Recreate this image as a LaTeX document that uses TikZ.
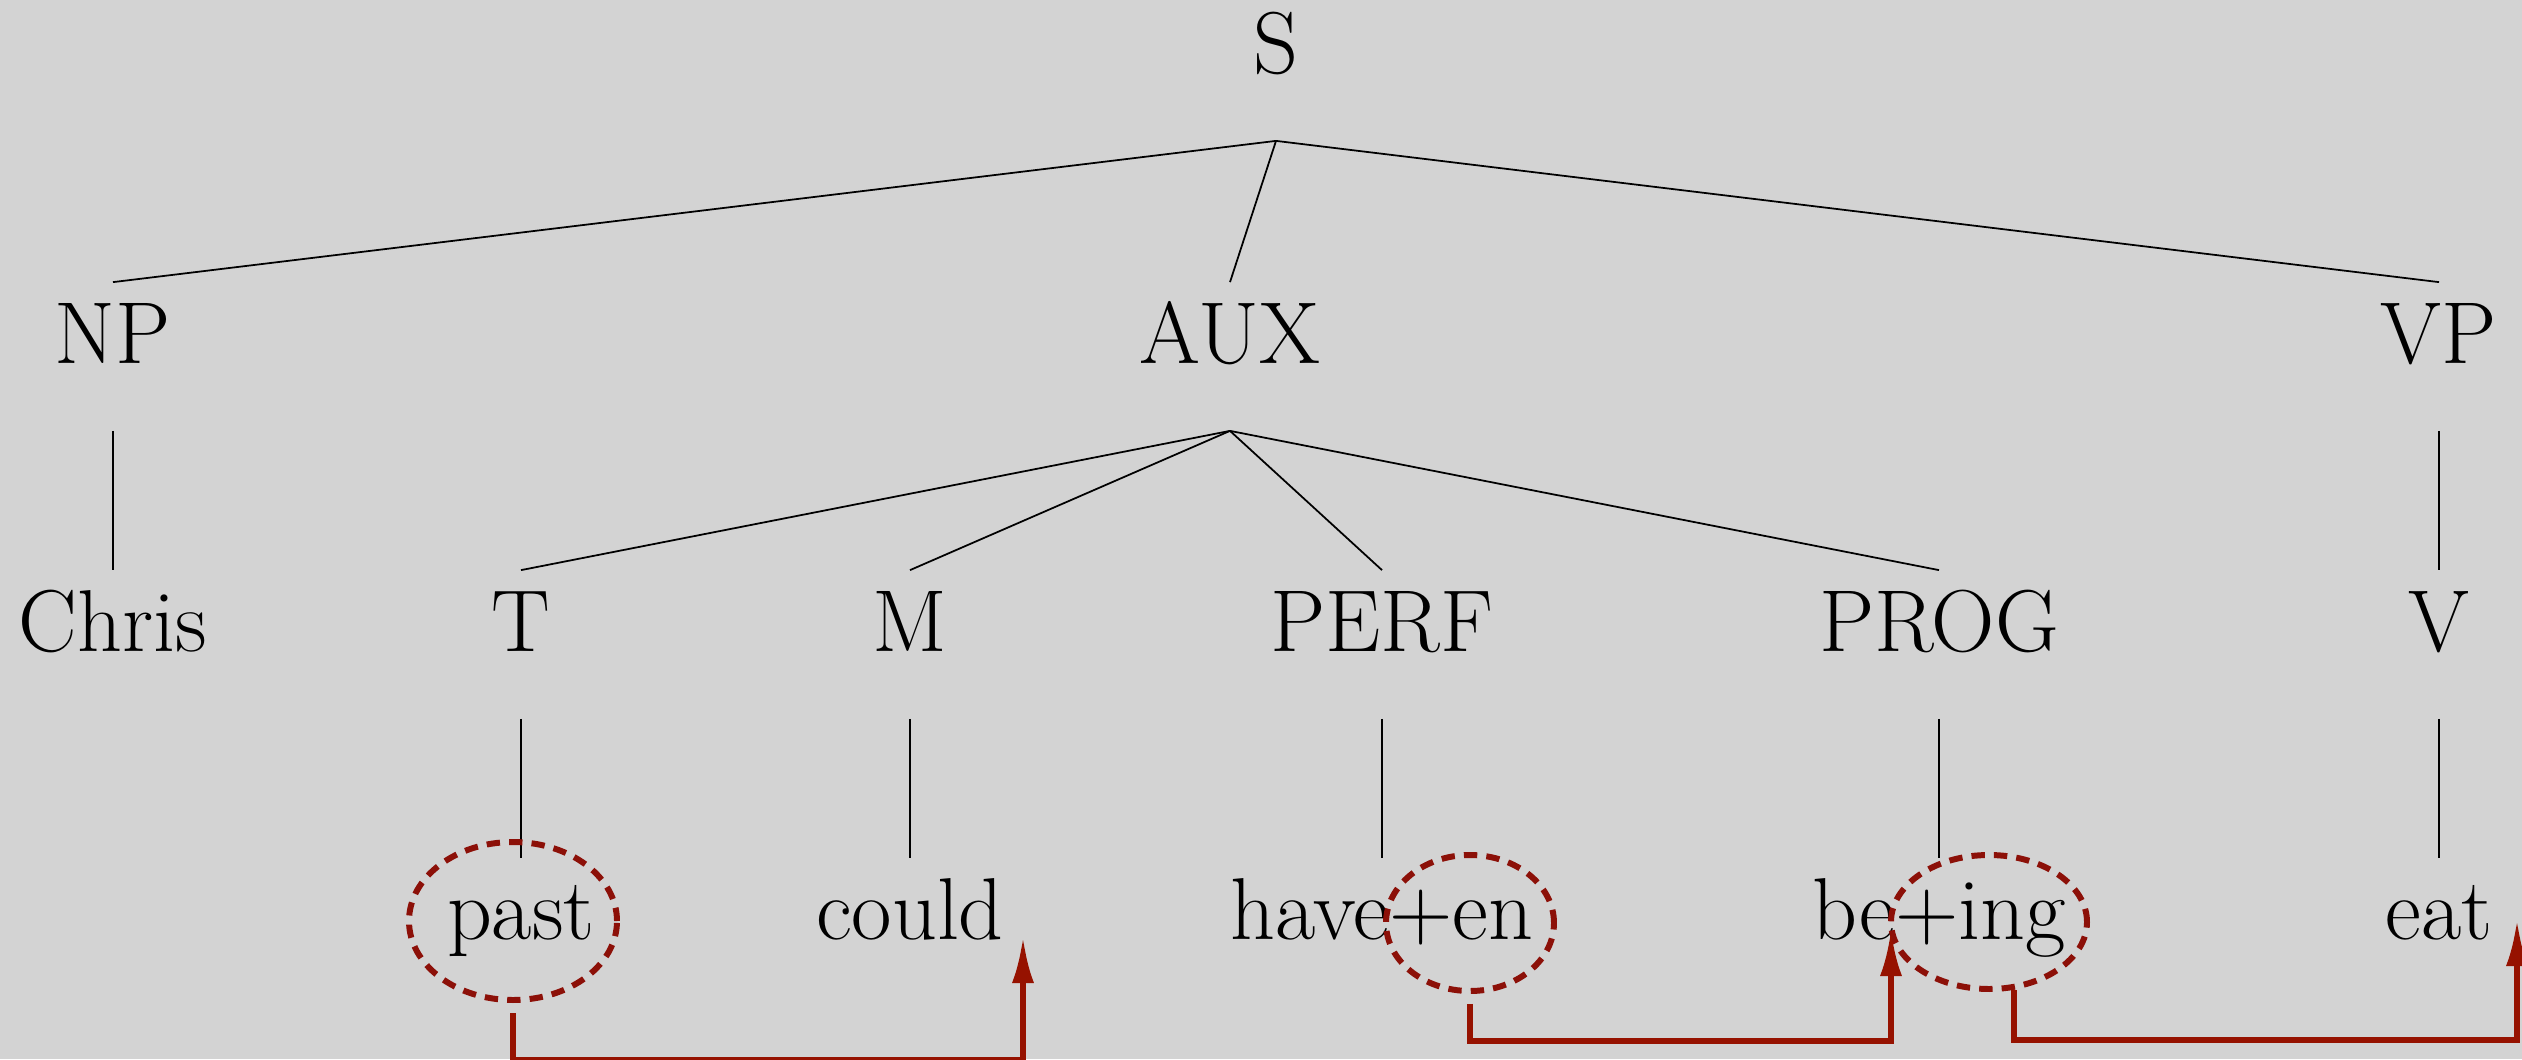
\documentclass[tikz,border=0pt]{standalone}
\usepackage{tikz}
\usetikzlibrary{shapes.geometric,arrows.meta}

\definecolor{bggray}{RGB}{211,211,211}
\definecolor{hopred}{RGB}{150,18,0}
\definecolor{ringred}{RGB}{140,16,8}

\begin{document}
\begin{tikzpicture}
	[every path/.style={black,line width=0.5pt},
	 cat/.style={anchor=base,inner sep=0pt,text height=0.8cm,text depth=0.67cm,font=\fontsize{25}{30}\selectfont},
	 word/.style={anchor=base,inner sep=0pt,text height=0.8cm,text depth=0.67cm,font=\fontsize{25}{30}\selectfont},
	 affix/.style={draw,ellipse,ringred,line width=1.7pt,dash pattern=on 3.8pt off 2.6pt,inner sep=0pt},
	 hop/.style={hopred,line width=1.6pt,-{Latex[length=4.6mm,width=2.2mm]}},
	 scale=1 ]

\fill[bggray] (0,0) rectangle (25.22,-10.59);
\useasboundingbox (0,0) rectangle (25.22,-10.59);

\node [cat] (s) at (12.76,-0.73) {S};

\node [cat] (np) at (1.13,-3.63) {NP};
\node [cat] (aux) at (12.30,-3.63) {AUX};
\node [cat] (vp) at (24.39,-3.63) {VP};

\node [word] (chris) at (1.13,-6.51) {Chris};
\node [cat] (t) at (5.21,-6.51) {T};
\node [cat] (m) at (9.10,-6.51) {M};
\node [cat] (perf) at (13.82,-6.51) {PERF};
\node [cat] (prog) at (19.39,-6.51) {PROG};
\node [cat] (v) at (24.39,-6.51) {V};

\node [word] (past) at (5.21,-9.39) {past};
\node [word] (could) at (9.10,-9.39) {could};
\node [word] (haveen) at (13.82,-9.39) {have+en};
\node [word] (being) at (19.39,-9.39) {be+ing};
\node [word] (eat) at (24.39,-9.39) {eat};

  \draw (s.south) -- (np.north);
  \draw (s.south) -- (aux.north);
  \draw (s.south) -- (vp.north);
  \draw (np.south) -- (chris.north);
  \draw (aux.south) -- (t.north);
  \draw (aux.south) -- (m.north);
  \draw (aux.south) -- (perf.north);
  \draw (aux.south) -- (prog.north);
  \draw (vp.south) -- (v.north);
  \draw (t.south) -- (past.north);
  \draw (m.south) -- (could.north);
  \draw (perf.south) -- (haveen.north);
  \draw (prog.south) -- (being.north);
  \draw (v.south) -- (eat.north);


\node [affix,minimum width=2.08cm,minimum height=1.58cm] (pastring) at (5.13,-9.21) {};
\node [affix,minimum width=1.68cm,minimum height=1.36cm] (enring) at (14.70,-9.23) {};
\node [affix,minimum width=1.96cm,minimum height=1.34cm] (ingring) at (19.89,-9.22) {};

\coordinate (couldtip) at (10.23,-9.37);
\coordinate (betip) at (18.91,-9.30);
\coordinate (eattip) at (25.17,-9.20);

  \draw[hop] ([yshift=-1mm]pastring.south) -- ++(0,-0.47) -| (couldtip);
  \draw[hop] ([yshift=-1mm]enring.south) -- ++(0,-0.37) -| (betip);
  \draw[hop] (ingring.-70) -- ++(0,-0.50) -| (eattip);

\end{tikzpicture}
\end{document}
